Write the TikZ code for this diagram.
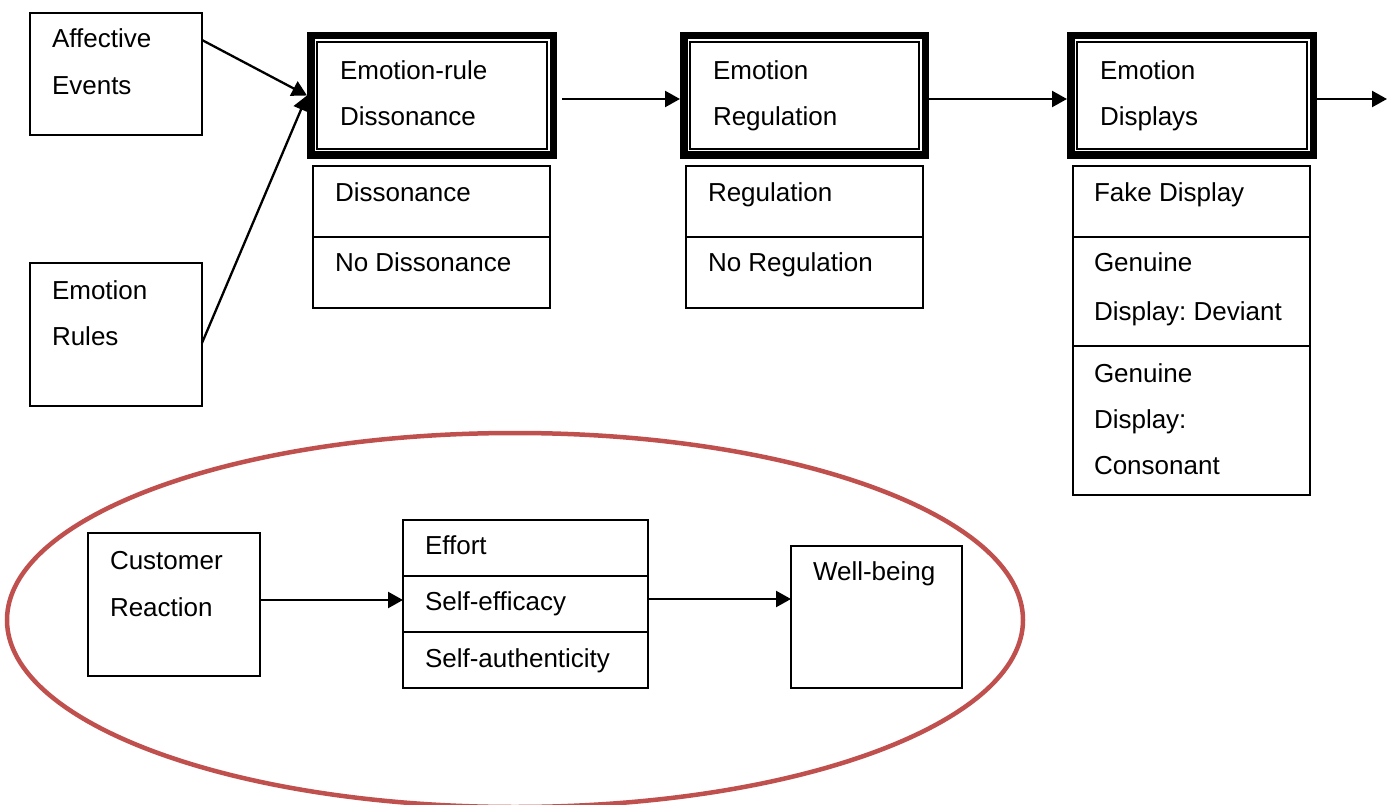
\documentclass[tikz,border=0pt]{standalone}
\usepackage{fontspec}
\setmainfont{Liberation Sans}
\usetikzlibrary{arrows.meta,calc}
\definecolor{ellred}{HTML}{C0504D}
\tikzset{
  box/.style={draw, line width=1.9pt, inner sep=0pt, outer sep=0pt, anchor=north west},
  outerbox/.style={draw, line width=7.5pt, inner sep=0pt, anchor=north west},
  innerbox/.style={draw, line width=1.6pt, inner sep=0pt, outer sep=0pt, anchor=center},
  txt/.style={anchor=base west, inner sep=0pt, outer sep=0pt},
  arr/.style={line width=2.3pt, -{Triangle[length=15pt,width=16pt]}},
  oval/.style={draw=ellred, line width=4.5pt}
}
\newcommand\mybox[5]{\node[box, minimum width=#4pt-#2pt, minimum height=#5pt-#3pt] (#1) at (#2,#3) {};}
\newcommand\tribox[5]{%
  \node[outerbox, minimum width=#4pt-#2pt-7.5pt, minimum height=#5pt-#3pt-7.5pt] (#1) at (#2,#3) {};
  \node[innerbox, minimum width=#4pt-#2pt-20pt, minimum height=#5pt-#3pt-20pt] (#1i) at (#1.center) {};}
\begin{document}
\frenchspacing
\begin{tikzpicture}[x=1pt, y=-1pt, font=\fontsize{26}{30}\selectfont]
\useasboundingbox (0,0) rectangle (1387,805);
\fill[white] (0,0) rectangle (1387,805);
% red ellipse
\draw[oval] (515,620) ellipse [x radius=508pt, y radius=187pt];
% boxes
\mybox{ae}{30}{13}{202}{135}
\mybox{er}{30}{263}{202}{406}
\tribox{dis}{307}{32}{557}{159}
\tribox{reg}{680}{32}{929}{159}
\tribox{disp}{1067}{32}{1317}{159}
\mybox{d1}{313}{166}{550}{237}
\mybox{d2}{313}{237}{550}{308}
\mybox{r1}{686}{166}{923}{237}
\mybox{r2}{686}{237}{923}{308}
\mybox{p1}{1073}{166}{1310}{237}
\mybox{p2}{1073}{237}{1310}{346}
\mybox{p3}{1073}{346}{1310}{495}
\mybox{cr}{88}{533}{260}{676}
\mybox{e1}{403}{520}{648}{576}
\mybox{e2}{403}{576}{648}{632}
\mybox{e3}{403}{632}{648}{688}
\mybox{wb}{791}{546}{962}{688}
% texts
\node[txt] (t1) at (52,48) {Affective};
\node[txt] (t2) at (52,95) {Events};
\node[txt] (t3) at (52,299) {Emotion};
\node[txt] (t4) at (52,345) {Rules};
\node[txt] (t5) at (340,80) {Emotion-rule};
\node[txt] (t6) at (340,126) {Dissonance};
\node[txt] (t7) at (713,80) {Emotion};
\node[txt] (t8) at (713,126) {Regulation};
\node[txt] (t9) at (1100,80) {Emotion};
\node[txt] (t10) at (1100,126) {Displays};
\node[txt] (t11) at (335,202) {Dissonance};
\node[txt] (t12) at (335,272) {No Dissonance};
\node[txt] (t13) at (708,202) {Regulation};
\node[txt] (t14) at (708,272) {No Regulation};
\node[txt] (t15) at (1094,202) {Fake Display};
\node[txt] (t16) at (1094,272) {Genuine};
\node[txt] (t17) at (1094,320) {Display: Deviant};
\node[txt] (t18) at (1094,382) {Genuine};
\node[txt] (t19) at (1094,428) {Display:};
\node[txt] (t20) at (1094,474) {Consonant};
\node[txt] (t21) at (110,569) {Customer};
\node[txt] (t22) at (110,616) {Reaction};
\node[txt] (t23) at (425,554) {Effort};
\node[txt] (t24) at (425,610) {Self-efficacy};
\node[txt] (t25) at (425,667) {Self-authenticity};
\node[txt] (t26) at (813,580) {Well-being};
% connectors
\draw[arr] ($(ae.north east)+(0,27)$) -- (dis.west);
\draw[arr] ($(er.north east)+(0,80)$) -- (dis.west);
\draw[arr] ($(dis.east)+(5,3.5)$) -- ($(reg.west)+(0,3.5)$);
\draw[arr] ($(reg.east)+(0,3.5)$) -- ($(disp.west)+(0,3.5)$);
\coordinate (outend) at (1387,99);
\draw[arr] ($(disp.east)+(0,3.5)$) -- (outend);
\draw[arr] ($(cr.east)+(0,-4.5)$) -- ($(e2.west)+(0,-4)$);
\draw[arr] ($(e2.east)+(0,-5)$) -- ($(wb.west)+(0,-18)$);
\end{tikzpicture}
\end{document}
